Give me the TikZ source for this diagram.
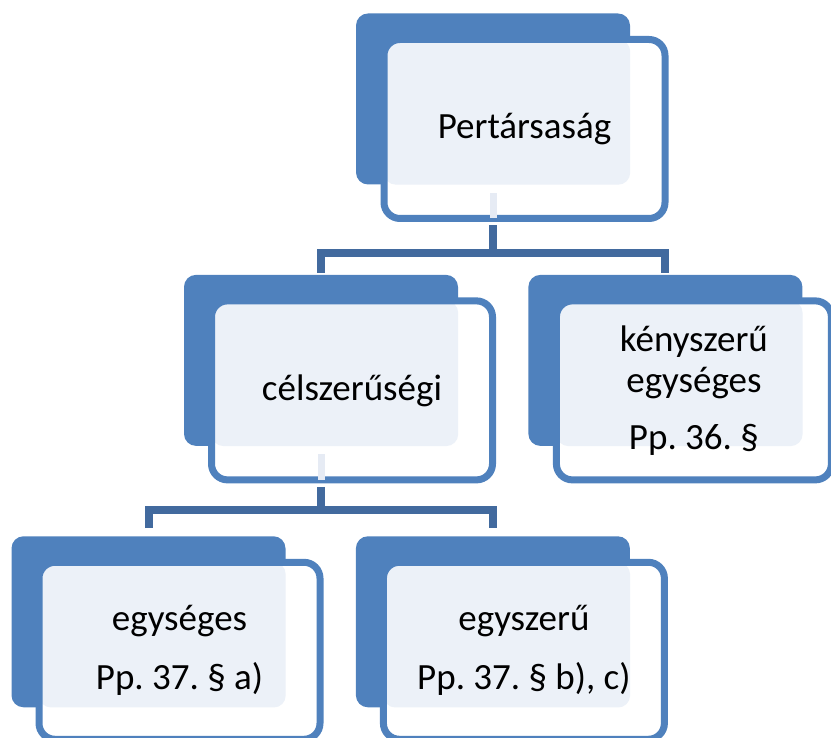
\documentclass[tikz,border=0pt]{standalone}
\usepackage{fontspec}
\setmainfont{Carlito}
\usetikzlibrary{calc,positioning}
\definecolor{boxblue}{RGB}{79,129,189}
\definecolor{connblue}{RGB}{66,106,158}
\definecolor{lightfill}{RGB}{236,241,248}
\definecolor{stubfill}{RGB}{230,235,244}
\frenchspacing

\begin{document}
\begin{tikzpicture}[x=1pt, y=1pt,
	back/.style={fill=boxblue, rounded corners=12pt, minimum width=274pt, minimum height=171pt, inner sep=0pt},
	front/.style={draw=boxblue, line width=7pt, fill=white, rounded corners=16pt, minimum width=281pt, minimum height=179pt, inner sep=0pt, align=center, font=\fontsize{37}{41}\selectfont,
		path picture={\fill[lightfill, rounded corners=12pt] (path picture bounding box.north west) rectangle (#1.south east);}},
	conn/.style={draw=connblue, line width=8pt}]
		\useasboundingbox (0,0) rectangle (831,738);
		
		\node[back] (persz) at (493,639) {};
		\node[back, below=90pt of persz, xshift=-172pt] (celsz) {};
		\node[back, right=70pt of celsz] (kenysz) {};
		\node[back, below=90pt of celsz, xshift=-172.5pt] (egys) {};
		\node[back, right=70pt of egys] (egysz) {};
		
		\node[front=persz] (persz-f) at ($(persz)+(31.5,-30)$) {Pertársaság};
		\node[front=celsz] (celsz-f) at ($(celsz)+(31,-30)$) {célszerűségi};
		\node[front=kenysz, minimum width=275pt] (kenysz-f) at ($(kenysz)+(28.5,-30)$) {kényszerű\\egységes\\[16pt]Pp. 36. §};
		\node[front=egys, minimum height=177pt] (egys-f) at ($(egys)+(31,-29)$) {egységes\\[18pt]Pp. 37. § a)};
		\node[front=egysz, minimum height=177pt] (egysz-f) at ($(egysz)+(31,-29)$) {egyszerű\\[18pt]Pp. 37. § b), c)};
		
		% light stubs inside the parent boxes
		\fill[stubfill] ($(persz.south)+(-3.5,-8)$) rectangle ($(persz-f.south -| persz.south)+(3.5,3.5)$);
		\fill[stubfill] ($(celsz.south)+(-3.5,-8)$) rectangle ($(celsz-f.south -| celsz.south)+(3.5,3.5)$);
		
		\coordinate (j1) at ($(persz-f.south -| persz.south)+(0,-31.5)$);
		\draw[conn] ($(persz-f.south -| persz.south)+(0,-3.5)$) -- (j1);
		\draw[conn] ([yshift=2pt]celsz.north) |- (j1) -| ([yshift=2pt]kenysz.north);
		
		\coordinate (j2) at ($(celsz-f.south -| celsz.south)+(0,-26.5)$);
		\draw[conn] ($(celsz-f.south -| celsz.south)+(0,-3.5)$) -- (j2);
		\draw[conn] ([yshift=8pt]egys.north) |- (j2) -| ([yshift=8pt]egysz.north);
		
\end{tikzpicture}
\end{document}
